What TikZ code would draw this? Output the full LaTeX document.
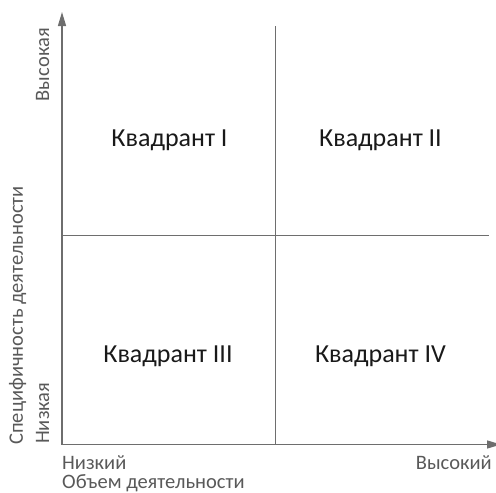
\documentclass[tikz,border=0pt]{standalone}
\usepackage{fontspec}
\setmainfont{Carlito}
\usetikzlibrary{arrows.meta}
\definecolor{axisgray}{HTML}{6E6E6E}
\definecolor{labelgray}{HTML}{595959}
\begin{document}
\begin{tikzpicture}[x=1pt,y=-1pt,
  axis/.style={draw=axisgray,line width=1.3pt,-{Triangle[length=14pt,width=8pt]}},
  divider/.style={draw=axisgray,line width=1.1pt},
  quad/.style={font=\fontsize{26}{30}\selectfont,text=black!90,inner sep=0pt,anchor=base},
  axlabel/.style={font=\fontsize{20.5}{24}\selectfont,text=labelgray,inner sep=0pt}]
\useasboundingbox (0,0) rectangle (496,493);
% key points of the chart
\coordinate (O) at (62,444.5);
\coordinate (ytop) at (62,12);
\coordinate (xend) at (501,444.5);
\coordinate (vtop) at (275.5,26);
\coordinate (vbot) at (275.5,444.5);
\coordinate (hl) at (62,235.5);
\coordinate (hr) at (489,235.5);
% quadrant dividers
\draw[divider] (vtop) -- (vbot);
\draw[divider] (hl) -- (hr);
% axes
\draw[axis] (O) -- (ytop);
\draw[axis] (O) -- (xend);
% quadrant names
\node[quad] (q1) at (169.5,146) {Квадрант I};
\node[quad] (q2) at (380.5,146) {Квадрант II};
\node[quad] (q3) at (168,362) {Квадрант III};
\node[quad] (q4) at (380.5,362) {Квадрант IV};
% horizontal axis labels
\node[axlabel,anchor=base west] (xlow) at (62,469) {Низкий};
\node[axlabel,anchor=base east] (xhigh) at (492,469) {Высокий};
\node[axlabel,anchor=base west] (xname) at (62,488.5) {Объем деятельности};
% vertical axis labels
\node[axlabel,rotate=90,anchor=base east] (yhigh) at (49,28) {Высокая};
\node[axlabel,rotate=90,anchor=base west] (ylow) at (49,444) {Низкая};
\node[axlabel,rotate=90,anchor=base west] (yname) at (23,445) {Специфичность деятельности};
\end{tikzpicture}
\end{document}
